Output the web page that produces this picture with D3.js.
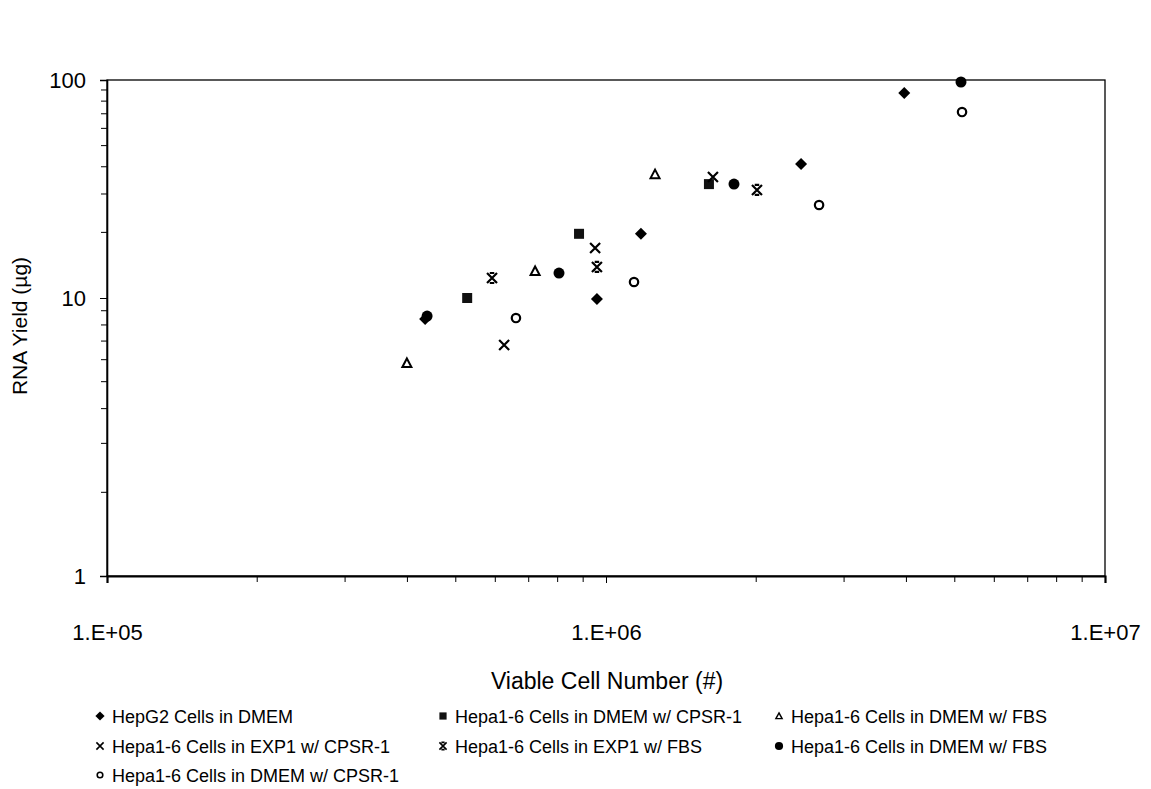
<!DOCTYPE html>
<html>
<head>
<meta charset="utf-8">
<script src="https://cdn.jsdelivr.net/npm/d3@7"></script>
<style>
  html, body { margin: 0; padding: 0; background: #fff; }
  svg { display: block; font-family: "Liberation Sans", Arial, sans-serif; }
</style>
</head>
<body>
<svg id="chart" width="1151" height="789"></svg>
<script>
// Series names (legend order) and marker kinds
const seriesNames = [
  "HepG2 Cells in DMEM",
  "Hepa1-6 Cells in DMEM w/ CPSR-1",
  "Hepa1-6 Cells in DMEM w/ FBS",
  "Hepa1-6 Cells in EXP1 w/ CPSR-1",
  "Hepa1-6 Cells in EXP1 w/ FBS",
  "Hepa1-6 Cells in DMEM w/ FBS",
  "Hepa1-6 Cells in DMEM w/ CPSR-1"
];
const seriesMarkers = ["diamond", "square", "triangle", "cross", "star", "dot", "ring"];

// Viable cell number (x) and RNA yield in µg (y) per series
const hepg2Dmem_x      = [4.34e5, 9.59e5, 1.175e6, 2.46e6, 3.96e6];
const hepg2Dmem_y      = [8.40, 9.92, 19.7, 41.2, 87.2];
const hepaDmemCpsrA_x  = [5.27e5, 8.83e5, 1.608e6];
const hepaDmemCpsrA_y  = [10.0, 19.7, 33.3];
const hepaDmemFbsA_x   = [3.99e5, 7.21e5, 1.254e6];
const hepaDmemFbsA_y   = [5.84, 13.3, 37.0];
const hepaExp1Cpsr_x   = [6.25e5, 9.51e5, 1.638e6];
const hepaExp1Cpsr_y   = [6.78, 16.96, 35.9];
const hepaExp1Fbs_x    = [5.91e5, 9.59e5, 2.007e6];
const hepaExp1Fbs_y    = [12.35, 13.88, 31.3];
const hepaDmemFbsB_x   = [4.38e5, 8.05e5, 1.805e6, 5.145e6];
const hepaDmemFbsB_y   = [8.61, 13.02, 33.3, 97.9];
const hepaDmemCpsrB_x  = [6.60e5, 1.138e6, 2.673e6, 5.17e6];
const hepaDmemCpsrB_y  = [8.47, 11.84, 26.7, 71.3];

const seriesX = [hepg2Dmem_x, hepaDmemCpsrA_x, hepaDmemFbsA_x, hepaExp1Cpsr_x, hepaExp1Fbs_x, hepaDmemFbsB_x, hepaDmemCpsrB_x];
const seriesY = [hepg2Dmem_y, hepaDmemCpsrA_y, hepaDmemFbsA_y, hepaExp1Cpsr_y, hepaExp1Fbs_y, hepaDmemFbsB_y, hepaDmemCpsrB_y];

// Axis ticks and labels
const xMajorTicks = [1e5, 1e6, 1e7];
const xTickLabels = ["1.E+05", "1.E+06", "1.E+07"];
const yMajorTicks = [1, 10, 100];
const yTickLabels = ["1", "10", "100"];
const xTitle = "Viable Cell Number (#)";
const yTitle = "RNA Yield (\u00b5g)";

const svg = d3.select("#chart");
const plotLeft = 107, plotRight = 1105, plotTop = 80, plotBottom = 576;

const x = d3.scaleLog().domain([1e5, 1e7]).range([plotLeft, plotRight]);
const y = d3.scaleLog().domain([1, 10, 100]).range([plotBottom, 298, plotTop]);

// minor tick values for each decade
function minorTicks(lo, hi) {
  const out = [];
  for (let d = lo; d < hi; d *= 10) for (let k = 2; k <= 9; k++) out.push(d * k);
  return out;
}

// plot frame
svg.append("rect")
  .attr("x", plotLeft).attr("y", plotTop)
  .attr("width", plotRight - plotLeft).attr("height", plotBottom - plotTop)
  .attr("fill", "none").attr("stroke", "#000").attr("stroke-width", 1.3);

// x axis
const xAxis = svg.append("g").attr("transform", `translate(0,${plotBottom})`);
xAxis.call(d3.axisBottom(x).tickValues(xMajorTicks).tickSize(7).tickPadding(41).tickFormat((d, i) => xTickLabels[i]));
xAxis.call(g => g.selectAll(".minor").data(minorTicks(1e5, 1e7)).enter().append("line")
  .attr("class", "minor").attr("x1", d => x(d)).attr("x2", d => x(d))
  .attr("y1", 0).attr("y2", 6).attr("stroke", "#000").attr("stroke-width", 1));
xAxis.select(".domain").attr("stroke-width", 2.2);
xAxis.selectAll(".tick text").attr("font-size", 22).attr("fill", "#000")
  .attr("font-family", "'Liberation Sans', Arial, sans-serif");

// y axis
const yAxis = svg.append("g").attr("transform", `translate(${plotLeft},0)`);
yAxis.call(d3.axisLeft(y).tickValues(yMajorTicks).tickSize(7).tickPadding(14).tickFormat((d, i) => yTickLabels[i]));
yAxis.call(g => g.selectAll(".minor").data(minorTicks(1, 100)).enter().append("line")
  .attr("class", "minor").attr("y1", d => y(d)).attr("y2", d => y(d))
  .attr("x1", 0).attr("x2", -6).attr("stroke", "#000").attr("stroke-width", 1));
yAxis.select(".domain").attr("stroke-width", 1.6);
yAxis.selectAll(".tick text").attr("font-size", 22).attr("fill", "#000")
  .attr("font-family", "'Liberation Sans', Arial, sans-serif");

// axis titles
svg.append("text").attr("x", 607).attr("y", 689).attr("text-anchor", "middle")
  .attr("font-size", 23).text(xTitle);
svg.append("text").attr("transform", "translate(27,326) rotate(-90)").attr("text-anchor", "middle")
  .attr("font-size", 21).text(yTitle);

// marker drawing
function drawMarker(g, kind, s) {
  const r = 5 * s;
  if (kind === "diamond") {
    g.append("path").attr("d", `M0,${-r - 1}L${r + 1},0L0,${r + 1}L${-r - 1},0Z`).attr("fill", "#000");
  } else if (kind === "square") {
    g.append("rect").attr("x", -r).attr("y", -r).attr("width", 2 * r).attr("height", 2 * r).attr("fill", "#111");
  } else if (kind === "triangle") {
    g.append("path").attr("d", `M0,${-r + 0.5}L${r - 0.5},${r - 1}L${-r + 0.5},${r - 1}Z`)
      .attr("fill", "none").attr("stroke", "#000").attr("stroke-width", 2 * s);
  } else if (kind === "cross") {
    g.append("path").attr("d", `M${-r},${-r}L${r},${r}M${r},${-r}L${-r},${r}`)
      .attr("stroke", "#000").attr("stroke-width", 2.2 * s);
  } else if (kind === "star") {
    g.append("path").attr("d", `M${-r},${-r}L${r},${r}M${r},${-r}L${-r},${r}M${-r * 0.45},${-r}L${r * 0.45},${-r}M${-r * 0.45},${r}L${r * 0.45},${r}`)
      .attr("stroke", "#000").attr("stroke-width", 2.2 * s);
  } else if (kind === "dot") {
    g.append("circle").attr("r", r + 0.5).attr("fill", "#000");
  } else if (kind === "ring") {
    g.append("circle").attr("r", r - 0.8).attr("fill", "none").attr("stroke", "#000").attr("stroke-width", 2.2 * s);
  }
}

// data points
seriesNames.forEach((name, i) => {
  const pts = seriesX[i].map((xv, j) => [xv, seriesY[i][j]]);
  svg.append("g").selectAll("g").data(pts).enter().append("g")
    .attr("transform", d => `translate(${x(d[0])},${y(d[1])})`)
    .each(function () { drawMarker(d3.select(this), seriesMarkers[i], 1); });
});

// legend: three columns
const legendCols = [100, 443, 779];
const legendRows = [716, 746, 775];
seriesNames.forEach((name, i) => {
  const cx = legendCols[i % 3], cy = legendRows[Math.floor(i / 3)];
  const g = svg.append("g").attr("transform", `translate(${cx},${cy})`);
  drawMarker(g, seriesMarkers[i], 0.72);
  g.append("text").attr("x", 12).attr("y", 6.5).attr("font-size", 18).text(name);
});
</script>
</body>
</html>
